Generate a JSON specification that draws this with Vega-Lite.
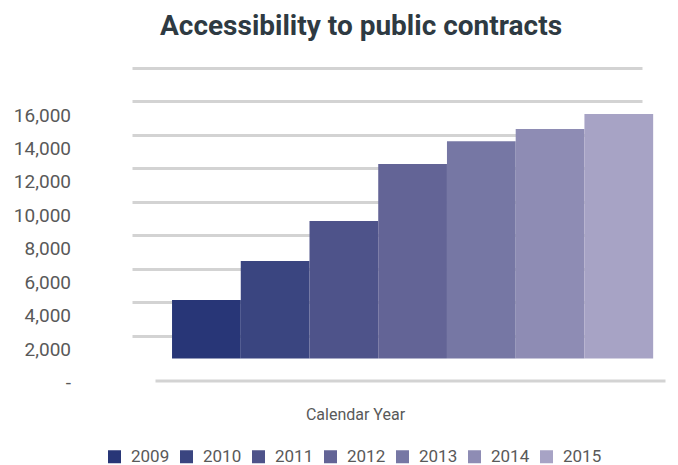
{
  "$schema": "https://vega.github.io/schema/vega-lite/v6.json",
  "width": 510,
  "height": 267.5,
  "autosize": {"type": "none"},
  "padding": {"left": 155, "top": 91, "right": 13, "bottom": 106.5},
  "background": "white",
  "title": {
    "text": "Accessibility to public contracts",
    "font": "Roboto",
    "fontSize": 28,
    "fontWeight": "bold",
    "color": "#2e3a42",
    "anchor": "middle",
    "baseline": "alphabetic",
    "frame": "group",
    "dx": -49,
    "offset": 28
  },
  "data": {
    "values": [
      {"year": "2009", "value": 3500},
      {"year": "2010", "value": 5830},
      {"year": "2011", "value": 8220},
      {"year": "2012", "value": 11630},
      {"year": "2013", "value": 13000},
      {"year": "2014", "value": 13730},
      {"year": "2015", "value": 14620}
    ]
  },
  "mark": {"type": "bar", "strokeWidth": 0},
  "encoding": {
    "x": {
      "field": "year",
      "type": "nominal",
      "scale": {"paddingInner": 0, "paddingOuter": 0.21, "align": 0.59},
      "axis": {
        "title": "Calendar Year",
        "labels": false,
        "ticks": false,
        "domain": true,
        "domainColor": "#d3d3d3",
        "domainWidth": 3,
        "offset": 22,
        "titleFont": "Roboto",
        "titleFontSize": 16,
        "titleFontWeight": "normal",
        "titleColor": "#595959",
        "titleX": 200,
        "titleY": 39,
        "titleAlign": "center",
        "titleBaseline": "alphabetic"
      }
    },
    "y": {
      "field": "value",
      "type": "quantitative",
      "scale": {"domain": [0, 16000], "nice": false, "zero": true},
      "axis": {
        "title": null,
        "values": [0, 2000, 4000, 6000, 8000, 10000, 12000, 14000, 16000],
        "labelExpr": "datum.value === 0 ? '-' : format(datum.value, ',')",
        "domain": false,
        "ticks": false,
        "tickSize": 0,
        "grid": true,
        "gridColor": "#d3d3d3",
        "gridWidth": 3,
        "translate": -22.5,
        "labelPadding": 61.5,
        "labelOffset": 47,
        "labelFont": "Roboto",
        "labelFontSize": 19,
        "labelColor": "#595959",
        "labelBaseline": "middle"
      }
    },
    "color": {
      "field": "year",
      "type": "nominal",
      "scale": {
        "domain": ["2009", "2010", "2011", "2012", "2013", "2014", "2015"],
        "range": ["#283677", "#3a4580", "#4e538a", "#636496", "#7677a4", "#8e8cb4", "#a7a3c5"]
      },
      "legend": {
        "title": null,
        "orient": "none",
        "direction": "horizontal",
        "legendX": -49,
        "legendY": 357,
        "symbolType": "square",
        "symbolSize": 169,
        "symbolStrokeWidth": 0,
        "labelFont": "Roboto",
        "labelFontSize": 17,
        "labelColor": "#595959",
        "labelOffset": 8,
        "columnPadding": 8
      }
    }
  },
  "config": {"view": {"stroke": null}}
}
